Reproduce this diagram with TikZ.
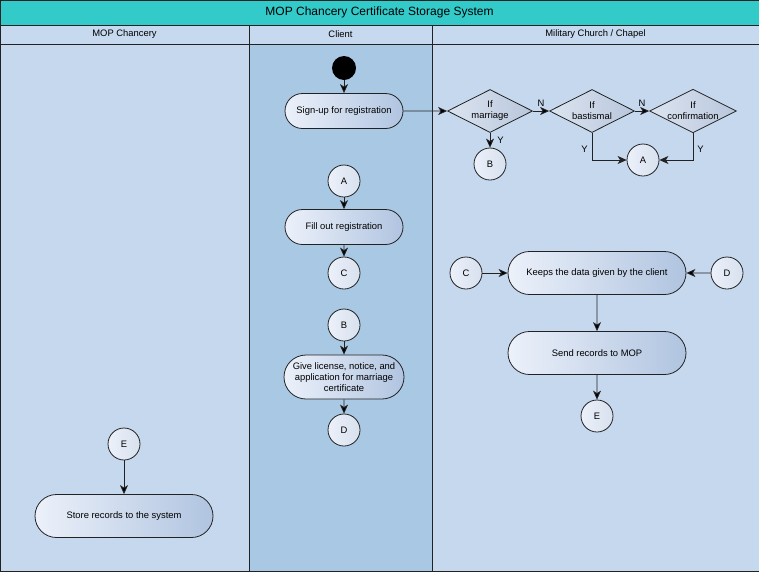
\documentclass[tikz,border=0pt]{standalone}
\usepackage{fontspec}
\setmainfont{Liberation Sans}
\usetikzlibrary{positioning,shapes.geometric,shapes.misc,arrows.meta}

\definecolor{titlecol}{RGB}{51,202,202}
\definecolor{headcol}{RGB}{198,217,239}
\definecolor{lanecol}{RGB}{197,216,238}
\definecolor{clientcol}{RGB}{169,200,228}
\definecolor{linecol}{RGB}{34,34,34}
\definecolor{actleft}{RGB}{236,241,250}
\definecolor{actright}{RGB}{176,196,224}
\definecolor{decleft}{RGB}{220,228,240}
\definecolor{decright}{RGB}{184,198,220}

\begin{document}
\begin{tikzpicture}[%
        x=1pt, y=-1pt,
        every node/.style={font=\fontsize{9.4}{11}\selectfont, inner sep=1pt},
        act/.style={rounded rectangle, draw=linecol, line width=0.8pt, left color=actleft, right color=actright,
          minimum width=120pt, minimum height=35pt, align=center},
        wideact/.style={act, minimum width=180pt, minimum height=43pt},
        dec/.style={diamond, draw=linecol, line width=0.8pt, left color=decleft, right color=decright,
          aspect=2, inner sep=0pt, minimum width=85pt, minimum height=43pt, align=center},
        conn/.style={circle, draw=linecol, line width=0.8pt, left color=actleft, right color=decleft!90!actright,
          minimum size=32pt, inner sep=0pt},
        lbl/.style={font=\fontsize{9.4}{11}\selectfont},
        flow/.style={draw=linecol, line width=0.8pt, -{Stealth[length=9pt,width=8pt,inset=2.5pt]}},
      ]
      \useasboundingbox (0,0) rectangle (759,571);

      % lanes
      \fill[lanecol] (0,44) rectangle (249,571);
      \fill[clientcol] (249,44) rectangle (432,571);
      \fill[lanecol] (432,44) rectangle (759,571);
      \fill[headcol] (0,25) rectangle (759,44);
      \fill[titlecol] (0,0) rectangle (759,25);
      \draw[linecol, line width=0.8pt] (0,0) rectangle (759,571);
      \draw[linecol, line width=0.8pt] (0,25) -- (759,25) (0,44) -- (759,44)
        (249,25) -- (249,571) (432,25) -- (432,571);
      \node (title) at (379.5,12.5) {\fontsize{12}{14}\selectfont MOP Chancery Certificate Storage System};
      \node (hmop) at (124.5,34.5) {MOP Chancery};
      \node (hcli) at (340.5,34.5) {Client};
      \node (hmil) at (595.5,34.5) {Military Church / Chapel};

      % client
      \node [circle, fill=black, minimum size=24pt, inner sep=0pt] (start) at (344,68) {};
      \node [act] (signup) at (344,111) {Sign-up for registration};
      \node [conn] (ac) at (344,181) {A};
      \node [act] (fill) at (344,227) {Fill out registration};
      \node [conn] (cc) at (344,273) {C};
      \node [conn] (bc) at (344,325) {B};
      \node [act, minimum height=44pt, inner sep=0pt] (give) at (344,377) {Give license, notice, and\\application for marriage\\certificate};
      \node [conn] (dc) at (344,430) {D};

      % military church
      \node [dec] (dmar) at (490,111) {If\\marriage};
      \node [dec] (dbap) at (592,111) {If\\bastismal};
      \node [dec] (dcon) at (693,111) {If\\confirmation};
      \node [conn] (bm) at (490,164) {B};
      \node [conn] (am) at (643,160) {A};
      \node [conn] (cm) at (466,273) {C};
      \node [wideact] (keep) at (597,273) {Keeps the data given by the client};
      \node [conn] (dm) at (727,273) {D};
      \node [wideact] (send) at (597,353) {Send records to MOP};
      \node [conn] (em) at (597,416) {E};

      % mop chancery
      \node [conn] (ep) at (124,444) {E};
      \node [wideact] (store) at (124,516) {Store records to the system};

      \path [flow]
      (start) edge (signup)
      (signup) edge (dmar)
      (dmar) edge node[lbl, above=3pt] {N} (dbap)
      (dbap) edge node[lbl, above=3pt] {N} (dcon)
      (dmar) edge node[lbl, right=6pt] {Y} (bm)
      (ac) edge (fill)
      (fill) edge (cc)
      (bc) edge (give)
      (give) edge (dc)
      (cm) edge (keep)
      (dm) edge (keep)
      (keep) edge (send)
      (send) edge (em)
      (ep) edge (store);
      \draw [flow] (dbap.south) |- node[lbl, pos=0.3, left=3pt] {Y} (am);
      \draw [flow] (dcon.south) |- node[lbl, pos=0.3, right=3pt] {Y} (am);
    \end{tikzpicture}
\end{document}
